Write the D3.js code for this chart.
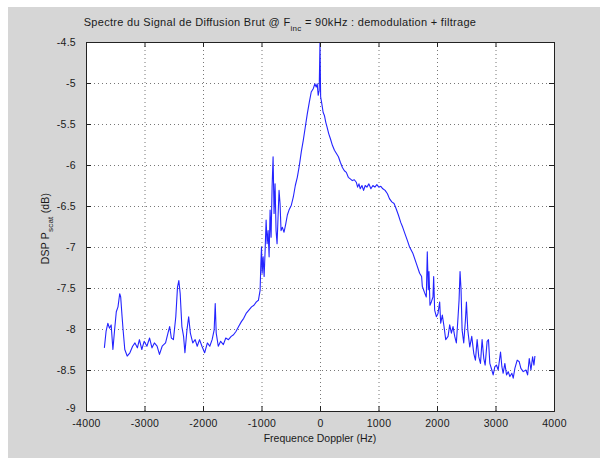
<!DOCTYPE html>
<html>
<head>
<meta charset="utf-8">
<script src="https://cdn.jsdelivr.net/npm/d3@7"></script>
<style>
  html, body { margin: 0; padding: 0; background: #fff; overflow: hidden; }
  svg { display: block; }
  text { font-family: "Liberation Sans", Arial, sans-serif; fill: #1a1a1a; }
</style>
</head>
<body>
<div id="chart"></div>
<script>
const width = 600, height = 458;
const margin = {top: 42, left: 86, right: 46, bottom: 47};
const innerWidth = width - margin.left - margin.right,
      innerHeight = height - margin.top - margin.bottom;

const xTicks = [-4000, -3000, -2000, -1000, 0, 1000, 2000, 3000, 4000];
const yTicks = [-4.5, -5, -5.5, -6, -6.5, -7, -7.5, -8, -8.5, -9];

// frequency (Hz) and DSP (dB)
const freq = [
  -3686,-3657,-3627,-3599,-3570,-3540,-3511,-3482,-3453,-3424,-3407,-3383,-3366,-3337,-3296,-3250,
  -3203,-3163,-3122,-3087,-3046,-3006,-2959,-2913,-2872,-2831,-2785,-2744,-2698,-2640,-2599,-2570,
  -2541,-2506,-2465,-2436,-2413,-2390,-2361,-2332,-2309,-2274,-2245,-2216,-2175,-2134,-2099,-2059,
  -2018,-1972,-1925,-1884,-1844,-1809,-1791,-1774,-1739,-1698,-1652,-1611,-1565,-1518,-1478,-1437,
  -1391,-1344,-1304,-1263,-1216,-1170,-1129,-1088,-1053,-1024,-1011,-1000,-989,-972,-955,-938,
  -921,-904,-887,-870,-853,-836,-819,-802,-785,-768,-751,-734,-717,-700,-683,-666,
  -643,-615,-586,-558,-530,-490,-456,-422,-388,-354,-320,-286,-252,-218,-184,-150,
  -116,-88,-65,-48,-31,-14,0,11,28,54,77,99,122,150,178,212,
  247,281,315,349,383,417,450,484,518,552,587,620,643,666,688,717,
  745,773,802,836,870,904,938,972,1006,1040,1074,1113,1153,1187,1227,1266,
  1300,1340,1380,1414,1453,1493,1531,1589,1646,1703,1737,1749,1789,1817,1834,1851,
  1863,1880,1903,1931,1943,1960,1989,2017,2046,2063,2091,2120,2149,2189,2217,2246,
  2274,2303,2331,2360,2377,2394,2411,2429,2457,2486,2503,2526,2560,2594,2629,2657,
  2686,2714,2743,2771,2800,2823,2857,2880,2903,2937,2960,2989,3017,3046,3086,3109,
  3131,3160,3189,3217,3246,3280,3303,3331,3371,3406,3434,3474,3520,3549,3577,3606,
  3634,3657,3674
];
const dsp = [
  -8.23,-8.03,-7.93,-7.99,-7.95,-8.25,-8.01,-7.79,-7.73,-7.57,-7.61,-7.85,-8.01,-8.25,-8.33,-8.29,
  -8.21,-8.17,-8.23,-8.13,-8.25,-8.15,-8.21,-8.11,-8.23,-8.17,-8.21,-8.31,-8.21,-8.17,-8.05,-7.97,
  -8.11,-8.13,-7.85,-7.49,-7.41,-7.57,-7.97,-8.09,-8.29,-8.01,-7.85,-8.05,-8.17,-8.13,-8.21,-8.13,
  -8.21,-8.29,-8.17,-8.21,-8.13,-8.01,-7.69,-8.05,-8.21,-8.15,-8.19,-8.11,-8.13,-8.09,-8.07,-8.03,
  -7.97,-7.91,-7.87,-7.81,-7.77,-7.73,-7.71,-7.67,-7.65,-7.53,-7.20,-7.00,-7.32,-7.12,-7.36,-7.04,
  -6.67,-6.96,-6.80,-7.12,-6.55,-6.88,-6.27,-5.90,-6.59,-6.23,-6.80,-6.96,-6.63,-6.31,-6.47,-6.80,
  -6.76,-6.82,-6.72,-6.61,-6.55,-6.49,-6.39,-6.25,-6.15,-6.01,-5.84,-5.70,-5.54,-5.38,-5.24,-5.11,
  -5.07,-5.01,-5.05,-5.01,-5.15,-5.09,-4.50,-5.17,-5.24,-5.36,-5.40,-5.48,-5.54,-5.62,-5.68,-5.76,
  -5.82,-5.86,-5.90,-5.97,-6.03,-6.07,-6.09,-6.15,-6.17,-6.19,-6.18,-6.21,-6.27,-6.23,-6.29,-6.25,
  -6.31,-6.25,-6.27,-6.23,-6.29,-6.25,-6.27,-6.24,-6.27,-6.26,-6.29,-6.31,-6.35,-6.41,-6.45,-6.47,
  -6.53,-6.61,-6.70,-6.76,-6.84,-6.92,-7.00,-7.08,-7.20,-7.32,-7.36,-7.48,-7.56,-7.61,-7.06,-7.52,
  -7.30,-7.71,-7.67,-7.61,-7.36,-7.77,-7.85,-7.81,-7.67,-7.93,-7.83,-7.97,-8.13,-8.09,-7.95,-8.05,
  -7.97,-8.09,-8.17,-7.85,-7.65,-7.30,-7.52,-8.01,-8.17,-7.89,-7.67,-8.01,-8.22,-8.09,-8.30,-8.38,
  -8.13,-8.34,-8.42,-8.13,-8.36,-8.44,-8.15,-8.13,-8.42,-8.50,-8.56,-8.46,-8.44,-8.50,-8.28,-8.46,
  -8.54,-8.42,-8.56,-8.52,-8.58,-8.54,-8.60,-8.48,-8.38,-8.40,-8.48,-8.52,-8.50,-8.56,-8.36,-8.50,
  -8.34,-8.44,-8.33
];

const data = freq.map((f, i) => ({f: f, v: dsp[i]}));

const root = d3.select("#chart").append("svg")
  .attr("width", width)
  .attr("height", height);

// figure background
root.append("rect")
  .attr("x", 8).attr("y", 7)
  .attr("width", width - 8).attr("height", height - 7)
  .attr("fill", "#d6d6d6");

const svg = root.append("g")
  .attr("transform", `translate(${margin.left}, ${margin.top})`);

const x = d3.scaleLinear().domain([-4000, 4000]).range([0, innerWidth]);
const y = d3.scaleLinear().domain([-9, -4.5]).range([innerHeight, 0]);

svg.append("rect")
  .attr("width", innerWidth).attr("height", innerHeight)
  .attr("fill", "#fff");

// dotted grid
svg.append("g")
  .selectAll("line")
  .data(xTicks.slice(1, -1))
  .enter().append("line")
  .attr("x1", d => x(d) + 0.5).attr("x2", d => x(d) + 0.5)
  .attr("y1", 0).attr("y2", innerHeight)
  .attr("stroke", "#777").attr("stroke-dasharray", "1,3");

svg.append("g")
  .selectAll("line")
  .data(yTicks.slice(1, -1))
  .enter().append("line")
  .attr("y1", d => Math.round(y(d)) + 0.5).attr("y2", d => Math.round(y(d)) + 0.5)
  .attr("x1", 0).attr("x2", innerWidth)
  .attr("stroke", "#777").attr("stroke-dasharray", "1,3");

// curve
svg.append("clipPath").attr("id", "clip")
  .append("rect").attr("width", innerWidth).attr("height", innerHeight);

const line = d3.line().x(d => x(d.f)).y(d => y(d.v));
svg.append("path")
  .datum(data)
  .attr("clip-path", "url(#clip)")
  .attr("d", line)
  .attr("fill", "none")
  .attr("stroke", "#2424ff")
  .attr("stroke-width", 1.1)
  .attr("stroke-linejoin", "round");

// axes with inward ticks
const fmt = d => String(d);
const axBottom = svg.append("g")
  .attr("transform", `translate(0, ${innerHeight})`)
  .call(d3.axisBottom(x).tickValues(xTicks).tickSize(-5).tickPadding(9).tickFormat(fmt));
const axTop = svg.append("g")
  .call(d3.axisTop(x).tickValues(xTicks).tickSize(-5).tickFormat(""));
const axLeft = svg.append("g")
  .call(d3.axisLeft(y).tickValues(yTicks).tickSize(-5).tickPadding(10).tickFormat(fmt));
const axRight = svg.append("g")
  .attr("transform", `translate(${innerWidth}, 0)`)
  .call(d3.axisRight(y).tickValues(yTicks).tickSize(-5).tickFormat(""));

[axBottom, axTop, axLeft, axRight].forEach(g => {
  g.select(".domain").attr("stroke", "#222");
  g.selectAll(".tick line").attr("stroke", "#222");
  g.selectAll("text")
    .style("font-size", "10.5px")
    .style("font-family", "'Liberation Sans', Arial, sans-serif")
    .style("letter-spacing", "0.3px")
    .attr("fill", "#1a1a1a");
});
axLeft.selectAll(".tick text").attr("dy", "0.32em");
axLeft.selectAll(".tick").filter(d => d === -9).select("text").attr("dy", "0em");

// title
const title = root.append("text")
  .attr("x", 280).attr("y", 26)
  .attr("text-anchor", "middle")
  .style("font-size", "11px")
  .style("letter-spacing", "0.3px");
title.append("tspan").text("Spectre du Signal de Diffusion Brut @ F");
title.append("tspan").attr("dy", 5).style("font-size", "8px").text("inc");
title.append("tspan").attr("dy", -5).text(" = 90kHz : demodulation + filtrage");

// x label
root.append("text")
  .attr("x", margin.left + innerWidth / 2).attr("y", 442)
  .attr("text-anchor", "middle")
  .style("font-size", "10.5px")
  .text("Frequence Doppler (Hz)");

// y label
const ylab = root.append("text")
  .attr("transform", `translate(49, ${margin.top + innerHeight / 2 + 2}) rotate(-90)`)
  .attr("text-anchor", "middle")
  .style("font-size", "10.5px")
  .style("letter-spacing", "0.2px");
ylab.append("tspan").text("DSP P");
ylab.append("tspan").attr("dy", 4).style("font-size", "8px").text("scat");
ylab.append("tspan").attr("dy", -4).text(" (dB)");
</script>
</body>
</html>
